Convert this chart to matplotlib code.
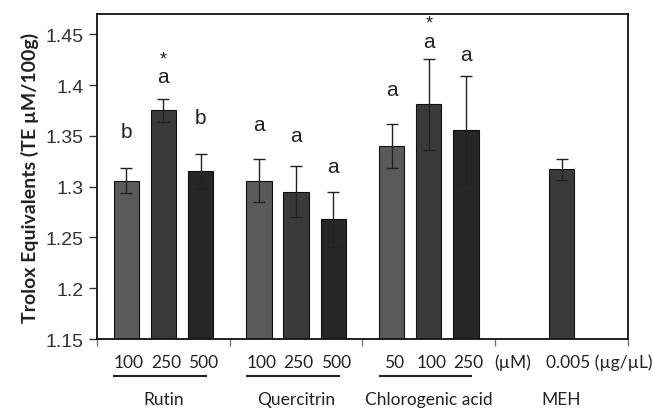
import matplotlib
matplotlib.use("Agg")
import matplotlib.pyplot as plt
import matplotlib.transforms as mtransforms
import numpy as np

# ── data ──────────────────────────────────────────────
groups = ["Rutin", "Quercitrin", "Chlorogenic acid", "MEH"]
conc_labels = [["100", "250", "500"],
               ["100", "250", "500"],
               ["50", "100", "250"],
               ["0.005 (µg/µL)"]]
means = [[1.306, 1.375, 1.315],
         [1.306, 1.295, 1.268],
         [1.340, 1.381, 1.356],
         [1.317]]
errors = [[0.012, 0.011, 0.017],
          [0.021, 0.025, 0.027],
          [0.022, 0.045, 0.053],
          [0.010]]
letters = [["b", "a", "b"],
           ["a", "a", "a"],
           ["a", "a", "a"],
           [""]]
letter_y = [[1.354, 1.408, 1.368],
            [1.361, 1.350, 1.320],
            [1.396, 1.443, 1.430],
            [None]]
stars = [[False, True, False],
         [False, False, False],
         [False, True, False],
         [False]]

BAR_COLORS = ["#5a5a5a", "#3a3a3a", "#262626"]
SPACING = 0.28
WIDTH = 0.19

fig = plt.figure(figsize=(6.53, 4.10), dpi=100)
ax = fig.add_axes([0.1485, 0.1707, 0.8132, 0.7927])

bar_x, bar_lbl = [], []
for g, (m, e) in enumerate(zip(means, errors)):
    n = len(m)
    offs = (np.arange(n) - (n - 1) / 2) * SPACING
    for i in range(n):
        x = g + offs[i]
        col = BAR_COLORS[i] if n > 1 else BAR_COLORS[1]
        ax.bar(x, m[i] - 1.15, bottom=1.15, width=WIDTH, color=col,
               edgecolor="#111111", linewidth=0.8, zorder=2)
        ax.errorbar(x, m[i], yerr=e[i], fmt="none", ecolor="#222222",
                    elinewidth=1.0, capsize=4, capthick=1.0, zorder=3)
        if letters[g][i]:
            t = ax.text(x, letter_y[g][i], letters[g][i], ha="center", va="center",
                        fontsize=15, family="Liberation Sans", color="#222222")
        if stars[g][i]:
            # star sits just above the letter's text box
            ax.annotate("*", xy=(0.5, 1.0), xycoords=t, xytext=(0, 0),
                        textcoords="offset points", ha="center", va="bottom",
                        fontsize=13, family="Liberation Sans", color="#222222")
        if n > 1:
            bar_x.append(x)
            bar_lbl.append(conc_labels[g][i])

ax.set_xlim(-0.5, len(groups) - 0.5)
ax.set_ylim(1.15, 1.47)
ax.set_yticks([1.15, 1.2, 1.25, 1.3, 1.35, 1.4, 1.45])
ax.set_yticklabels(["1.15", "1.2", "1.25", "1.3", "1.35", "1.4", "1.45"],
                   fontsize=14, family="Liberation Sans", color="#333333")
ax.tick_params(axis="y", length=6, width=1, direction="out", colors="#333333")

ax.set_xticks(np.arange(len(groups) + 1) - 0.5)
ax.set_xticklabels([])
ax.tick_params(axis="x", length=5, width=1, direction="out", color="#777777")

for s in ax.spines.values():
    s.set_linewidth(1.3)
    s.set_color("#111111")

ax.set_ylabel("Trolox Equivalents (TE µM/100g)", fontsize=14,
              fontweight="bold", family="Lato", color="#222222", labelpad=5)

# concentration labels, underlines and group names below the axis
trans = mtransforms.blended_transform_factory(ax.transData, ax.transAxes)
for x, lbl in zip(bar_x, bar_lbl):
    ax.text(x + 0.02, -0.07, lbl, transform=trans, ha="center", va="center",
            fontsize=12.5, family="Lato", color="#222222", clip_on=False)
ax.text(2.63, -0.07, "(µM)", transform=trans, ha="center", va="center",
        fontsize=12.5, family="Lato", color="#222222", clip_on=False)
ax.text(2.88, -0.07, conc_labels[3][0], transform=trans, ha="left",
        va="center", fontsize=12.5, family="Lato", color="#222222", clip_on=False)

for g in range(3):
    ax.plot([g - 0.37, g + 0.32], [-0.115, -0.115], transform=trans,
            color="#222222", linewidth=1.5, clip_on=False)
for g, name in enumerate(groups):
    ax.text(g, -0.185, name, transform=trans, ha="center", va="center",
            fontsize=12.5, family="Lato", color="#222222", clip_on=False)

fig.savefig("out.png", dpi=100, facecolor="white")
